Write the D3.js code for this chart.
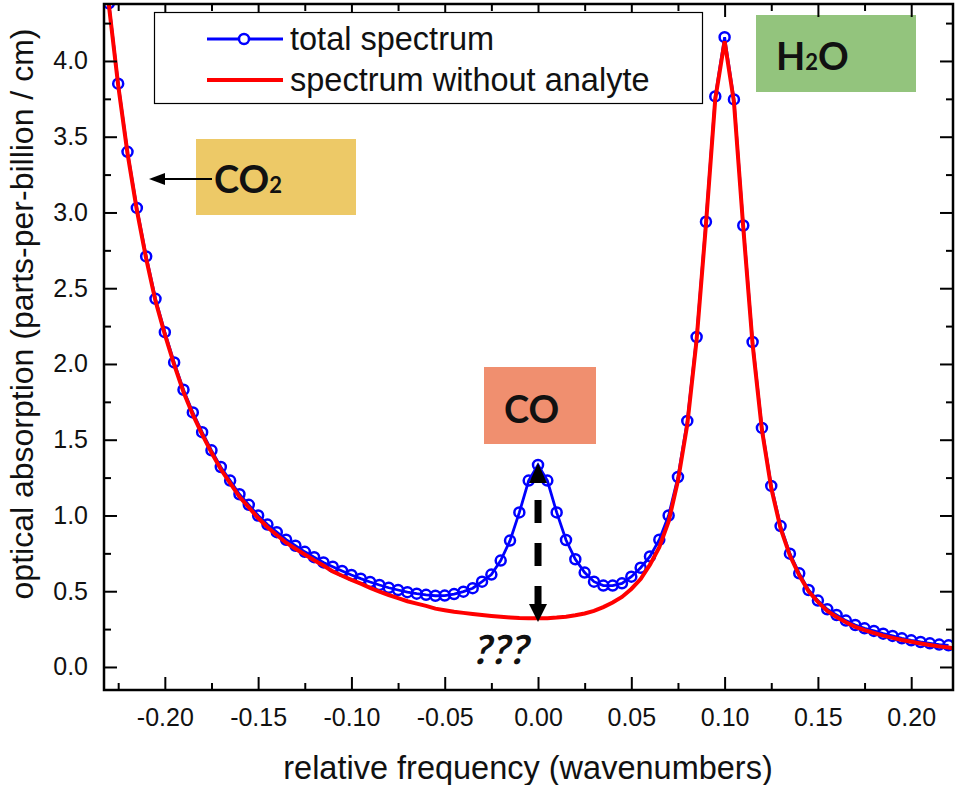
<!DOCTYPE html>
<html>
<head>
<meta charset="utf-8">
<script src="https://cdn.jsdelivr.net/npm/d3@7"></script>
<style>
  body { margin: 0; background: #fff; }
  svg { font-family: "Liberation Sans", Arial, sans-serif; }
  .note { font-family: Lato, "Open Sans", sans-serif; font-weight: bold; fill: #111; }
</style>
</head>
<body>
<script>
// relative frequency grid of the measured points (wavenumbers)
const freq = [
  -0.230, -0.225, -0.220, -0.215, -0.210, -0.205, -0.200, -0.195, -0.190, -0.185,
  -0.180, -0.175, -0.170, -0.165, -0.160, -0.155, -0.150, -0.145, -0.140, -0.135,
  -0.130, -0.125, -0.120, -0.115, -0.110, -0.105, -0.100, -0.095, -0.090, -0.085,
  -0.080, -0.075, -0.070, -0.065, -0.060, -0.055, -0.050, -0.045, -0.040, -0.035,
  -0.030, -0.025, -0.020, -0.015, -0.010, -0.005, 0.000, 0.005, 0.010, 0.015,
  0.020, 0.025, 0.030, 0.035, 0.040, 0.045, 0.050, 0.055, 0.060, 0.065,
  0.070, 0.075, 0.080, 0.085, 0.090, 0.095, 0.100, 0.105, 0.110, 0.115,
  0.120, 0.125, 0.130, 0.135, 0.140, 0.145, 0.150, 0.155, 0.160, 0.165,
  0.170, 0.175, 0.180, 0.185, 0.190, 0.195, 0.200, 0.205, 0.210, 0.215,
  0.220
];

// total spectrum (blue, with markers)
const totalSpectrum = [
  4.38, 3.85, 3.40, 3.03, 2.71, 2.43, 2.21, 2.01, 1.83, 1.68,
  1.55, 1.43, 1.32, 1.23, 1.14, 1.07, 1.00, 0.94, 0.89, 0.84,
  0.80, 0.76, 0.725, 0.69, 0.662, 0.634, 0.607, 0.583, 0.561, 0.541,
  0.523, 0.508, 0.494, 0.484, 0.476, 0.470, 0.471, 0.481, 0.497, 0.520,
  0.563, 0.610, 0.702, 0.834, 1.02, 1.23, 1.333, 1.23, 1.02, 0.838,
  0.711, 0.623, 0.563, 0.537, 0.537, 0.552, 0.596, 0.655, 0.73, 0.84,
  1.00, 1.254, 1.624, 2.178, 2.939, 3.766, 4.157, 3.746, 2.914, 2.145,
  1.578, 1.195, 0.93, 0.748, 0.618, 0.508, 0.438, 0.381, 0.343, 0.306,
  0.277, 0.255, 0.238, 0.220, 0.205, 0.189, 0.176, 0.165, 0.156, 0.148,
  0.143
];

// spectrum without analyte (red), runs a little past both frame edges
const bgFreq = [-0.235, ...freq, 0.225];
const bgSpectrum = [
  4.80, 4.37, 3.84, 3.39, 3.015, 2.695, 2.415, 2.195, 1.995, 1.815, 1.665,
  1.535, 1.415, 1.305, 1.213, 1.123, 1.053, 0.983, 0.922, 0.871, 0.82,
  0.78, 0.742, 0.705, 0.67, 0.631, 0.602, 0.575, 0.55, 0.522, 0.497,
  0.475, 0.455, 0.434, 0.418, 0.403, 0.385, 0.375, 0.365, 0.357, 0.35,
  0.343, 0.337, 0.332, 0.327, 0.323, 0.321, 0.321, 0.322, 0.326, 0.332,
  0.341, 0.353, 0.37, 0.395, 0.425, 0.462, 0.515, 0.58, 0.675, 0.79,
  0.96, 1.23, 1.60, 2.16, 2.92, 3.75, 4.13, 3.73, 2.90, 2.13,
  1.565, 1.18, 0.915, 0.735, 0.605, 0.50, 0.43, 0.37, 0.33, 0.295,
  0.265, 0.243, 0.224, 0.207, 0.192, 0.178, 0.166, 0.155, 0.145, 0.136, 0.128, 0.12
];

const xTicks = [-0.20, -0.15, -0.10, -0.05, 0.00, 0.05, 0.10, 0.15, 0.20];
const xMinor = [-0.225, -0.175, -0.125, -0.075, -0.025, 0.025, 0.075, 0.125, 0.175];
const yTicks = [0.0, 0.5, 1.0, 1.5, 2.0, 2.5, 3.0, 3.5, 4.0];
const yMinor = [0.25, 0.75, 1.25, 1.75, 2.25, 2.75, 3.25, 3.75, 4.25];

const legendLabels = ["total spectrum", "spectrum without analyte"];
const xTitle = "relative frequency (wavenumbers)";
const yTitle = "optical absorption (parts-per-billion / cm)";

const width = 961, height = 785;
const plot = {left: 104, right: 953, top: 4, bottom: 690};

let x = d3.scaleLinear().domain([-0.2326, 0.2224]).range([plot.left, plot.right]);
let y = d3.scaleLinear().domain([-0.152, 4.376]).range([plot.bottom, plot.top]);

let svg = d3.select("body").append("svg")
    .attr("width", width)
    .attr("height", height);

svg.append("clipPath").attr("id", "plot-clip")
  .append("rect")
    .attr("x", plot.left).attr("y", plot.top)
    .attr("width", plot.right - plot.left)
    .attr("height", plot.bottom - plot.top);

let total = freq.map((f, i) => ({f, v: totalSpectrum[i]}));
let background = bgFreq.map((f, i) => ({f, v: bgSpectrum[i]}));

let line = d3.line().x(d => x(d.f)).y(d => y(d.v));

let curves = svg.append("g").attr("clip-path", "url(#plot-clip)");

curves.append("path")
    .datum(total)
    .attr("d", line)
    .attr("fill", "none")
    .attr("stroke", "#0000ff")
    .attr("stroke-width", 2.8);

curves.selectAll("circle")
    .data(total)
    .enter().append("circle")
    .attr("cx", d => x(d.f))
    .attr("cy", d => y(d.v))
    .attr("r", 5)
    .attr("fill", "none")
    .attr("stroke", "#0000ff")
    .attr("stroke-width", 2.5);

curves.append("path")
    .datum(background)
    .attr("d", line)
    .attr("fill", "none")
    .attr("stroke", "#ff0000")
    .attr("stroke-width", 4);

// coloured labels
function noteBox(x0, y0, w, h, color) {
    svg.append("rect")
        .attr("x", x0).attr("y", y0)
        .attr("width", w).attr("height", h)
        .attr("fill", color);
}

function noteText(x0, y0, main, sub, tail) {
    let t = svg.append("text").attr("class", "note")
        .attr("x", x0).attr("y", y0)
        .attr("font-size", 38);
    t.append("tspan").text(main);
    if (sub) t.append("tspan").attr("font-size", 22).text(sub);
    if (tail) t.append("tspan").text(tail);
}

noteBox(196, 139, 160, 76, "#edc967");
noteText(214, 193, "CO", "2");
noteBox(756, 15, 160, 77, "#93c47d");
noteText(776, 70, "H", "2", "O");
noteBox(484, 367, 112, 77, "#f08f6f");
noteText(504, 423, "CO");

// CO2 pointer
svg.append("line")
    .attr("x1", 212).attr("y1", 179)
    .attr("x2", 162).attr("y2", 179)
    .attr("stroke", "#000").attr("stroke-width", 2);
svg.append("path")
    .attr("d", "M149,179 L165,173 L165,185 Z")
    .attr("fill", "#000");

// dashed double arrow between the two spectra at the CO line
let ax = x(0);
svg.append("line")
    .attr("x1", ax).attr("y1", 500)
    .attr("x2", ax).attr("y2", 606)
    .attr("stroke", "#000").attr("stroke-width", 7)
    .attr("stroke-dasharray", "23,20");
svg.append("path")
    .attr("d", `M${ax},463 L${ax - 9},483 L${ax + 9},483 Z`)
    .attr("fill", "#000");
svg.append("path")
    .attr("d", `M${ax},622 L${ax - 9},604 L${ax + 9},604 Z`)
    .attr("fill", "#000");

svg.append("text").attr("class", "note")
    .attr("transform", "translate(499,664) skewX(-14)")
    .attr("text-anchor", "middle")
    .attr("font-size", 40)
    .text("???");

// axes, ticks pointing inwards on all four sides
function styleAxis(g) {
    g.select(".domain").remove();
    g.selectAll(".tick line").attr("stroke", "#000").attr("stroke-width", 2);
    g.selectAll(".tick text")
        .attr("fill", "#111")
        .attr("font-size", 25)
        .attr("font-family", "'Liberation Sans', Arial, sans-serif");
}

svg.append("g")
    .attr("transform", `translate(0,${plot.bottom})`)
    .call(d3.axisBottom(x).tickValues(xTicks).tickSize(-13).tickPadding(18)
        .tickFormat(d => d.toFixed(2)))
    .call(styleAxis);
svg.append("g")
    .attr("transform", `translate(0,${plot.bottom})`)
    .call(d3.axisBottom(x).tickValues(xMinor).tickSize(-7).tickFormat(""))
    .call(styleAxis);
svg.append("g")
    .attr("transform", `translate(0,${plot.top})`)
    .call(d3.axisTop(x).tickValues(xTicks).tickSize(-13).tickFormat(""))
    .call(styleAxis);
svg.append("g")
    .attr("transform", `translate(0,${plot.top})`)
    .call(d3.axisTop(x).tickValues(xMinor).tickSize(-7).tickFormat(""))
    .call(styleAxis);

svg.append("g")
    .attr("transform", `translate(${plot.left},0)`)
    .call(d3.axisLeft(y).tickValues(yTicks).tickSize(-13).tickPadding(16)
        .tickFormat(d => d.toFixed(1)))
    .call(styleAxis);
svg.append("g")
    .attr("transform", `translate(${plot.left},0)`)
    .call(d3.axisLeft(y).tickValues(yMinor).tickSize(-7).tickFormat(""))
    .call(styleAxis);
svg.append("g")
    .attr("transform", `translate(${plot.right},0)`)
    .call(d3.axisRight(y).tickValues(yTicks).tickSize(-13).tickFormat(""))
    .call(styleAxis);
svg.append("g")
    .attr("transform", `translate(${plot.right},0)`)
    .call(d3.axisRight(y).tickValues(yMinor).tickSize(-7).tickFormat(""))
    .call(styleAxis);

svg.append("rect")
    .attr("x", plot.left).attr("y", plot.top)
    .attr("width", plot.right - plot.left)
    .attr("height", plot.bottom - plot.top)
    .attr("fill", "none")
    .attr("stroke", "#000")
    .attr("stroke-width", 2.5);

// axis titles
svg.append("text")
    .attr("x", 528).attr("y", 779)
    .attr("text-anchor", "middle")
    .attr("font-size", 32.5)
    .attr("fill", "#111")
    .text(xTitle);

svg.append("text")
    .attr("transform", "translate(33,314) rotate(-90)")
    .attr("text-anchor", "middle")
    .attr("font-size", 32)
    .attr("fill", "#111")
    .text(yTitle);

// legend
let legend = svg.append("g");
legend.append("rect")
    .attr("x", 154.5).attr("y", 12.5)
    .attr("width", 548).attr("height", 91)
    .attr("fill", "#fff")
    .attr("stroke", "#000")
    .attr("stroke-width", 1.2);

legend.append("line")
    .attr("x1", 207).attr("x2", 283).attr("y1", 39).attr("y2", 39)
    .attr("stroke", "#0000ff").attr("stroke-width", 3);
legend.append("circle")
    .attr("cx", 244).attr("cy", 39).attr("r", 5)
    .attr("fill", "#fff").attr("stroke", "#0000ff").attr("stroke-width", 2.5);
legend.append("line")
    .attr("x1", 207).attr("x2", 283).attr("y1", 80).attr("y2", 80)
    .attr("stroke", "#ff0000").attr("stroke-width", 4);

legend.selectAll("text")
    .data(legendLabels)
    .enter().append("text")
    .attr("x", 290)
    .attr("y", (d, i) => 50 + i * 41)
    .attr("font-size", 32.5)
    .attr("fill", "#111")
    .text(d => d);
</script>
</body>
</html>
